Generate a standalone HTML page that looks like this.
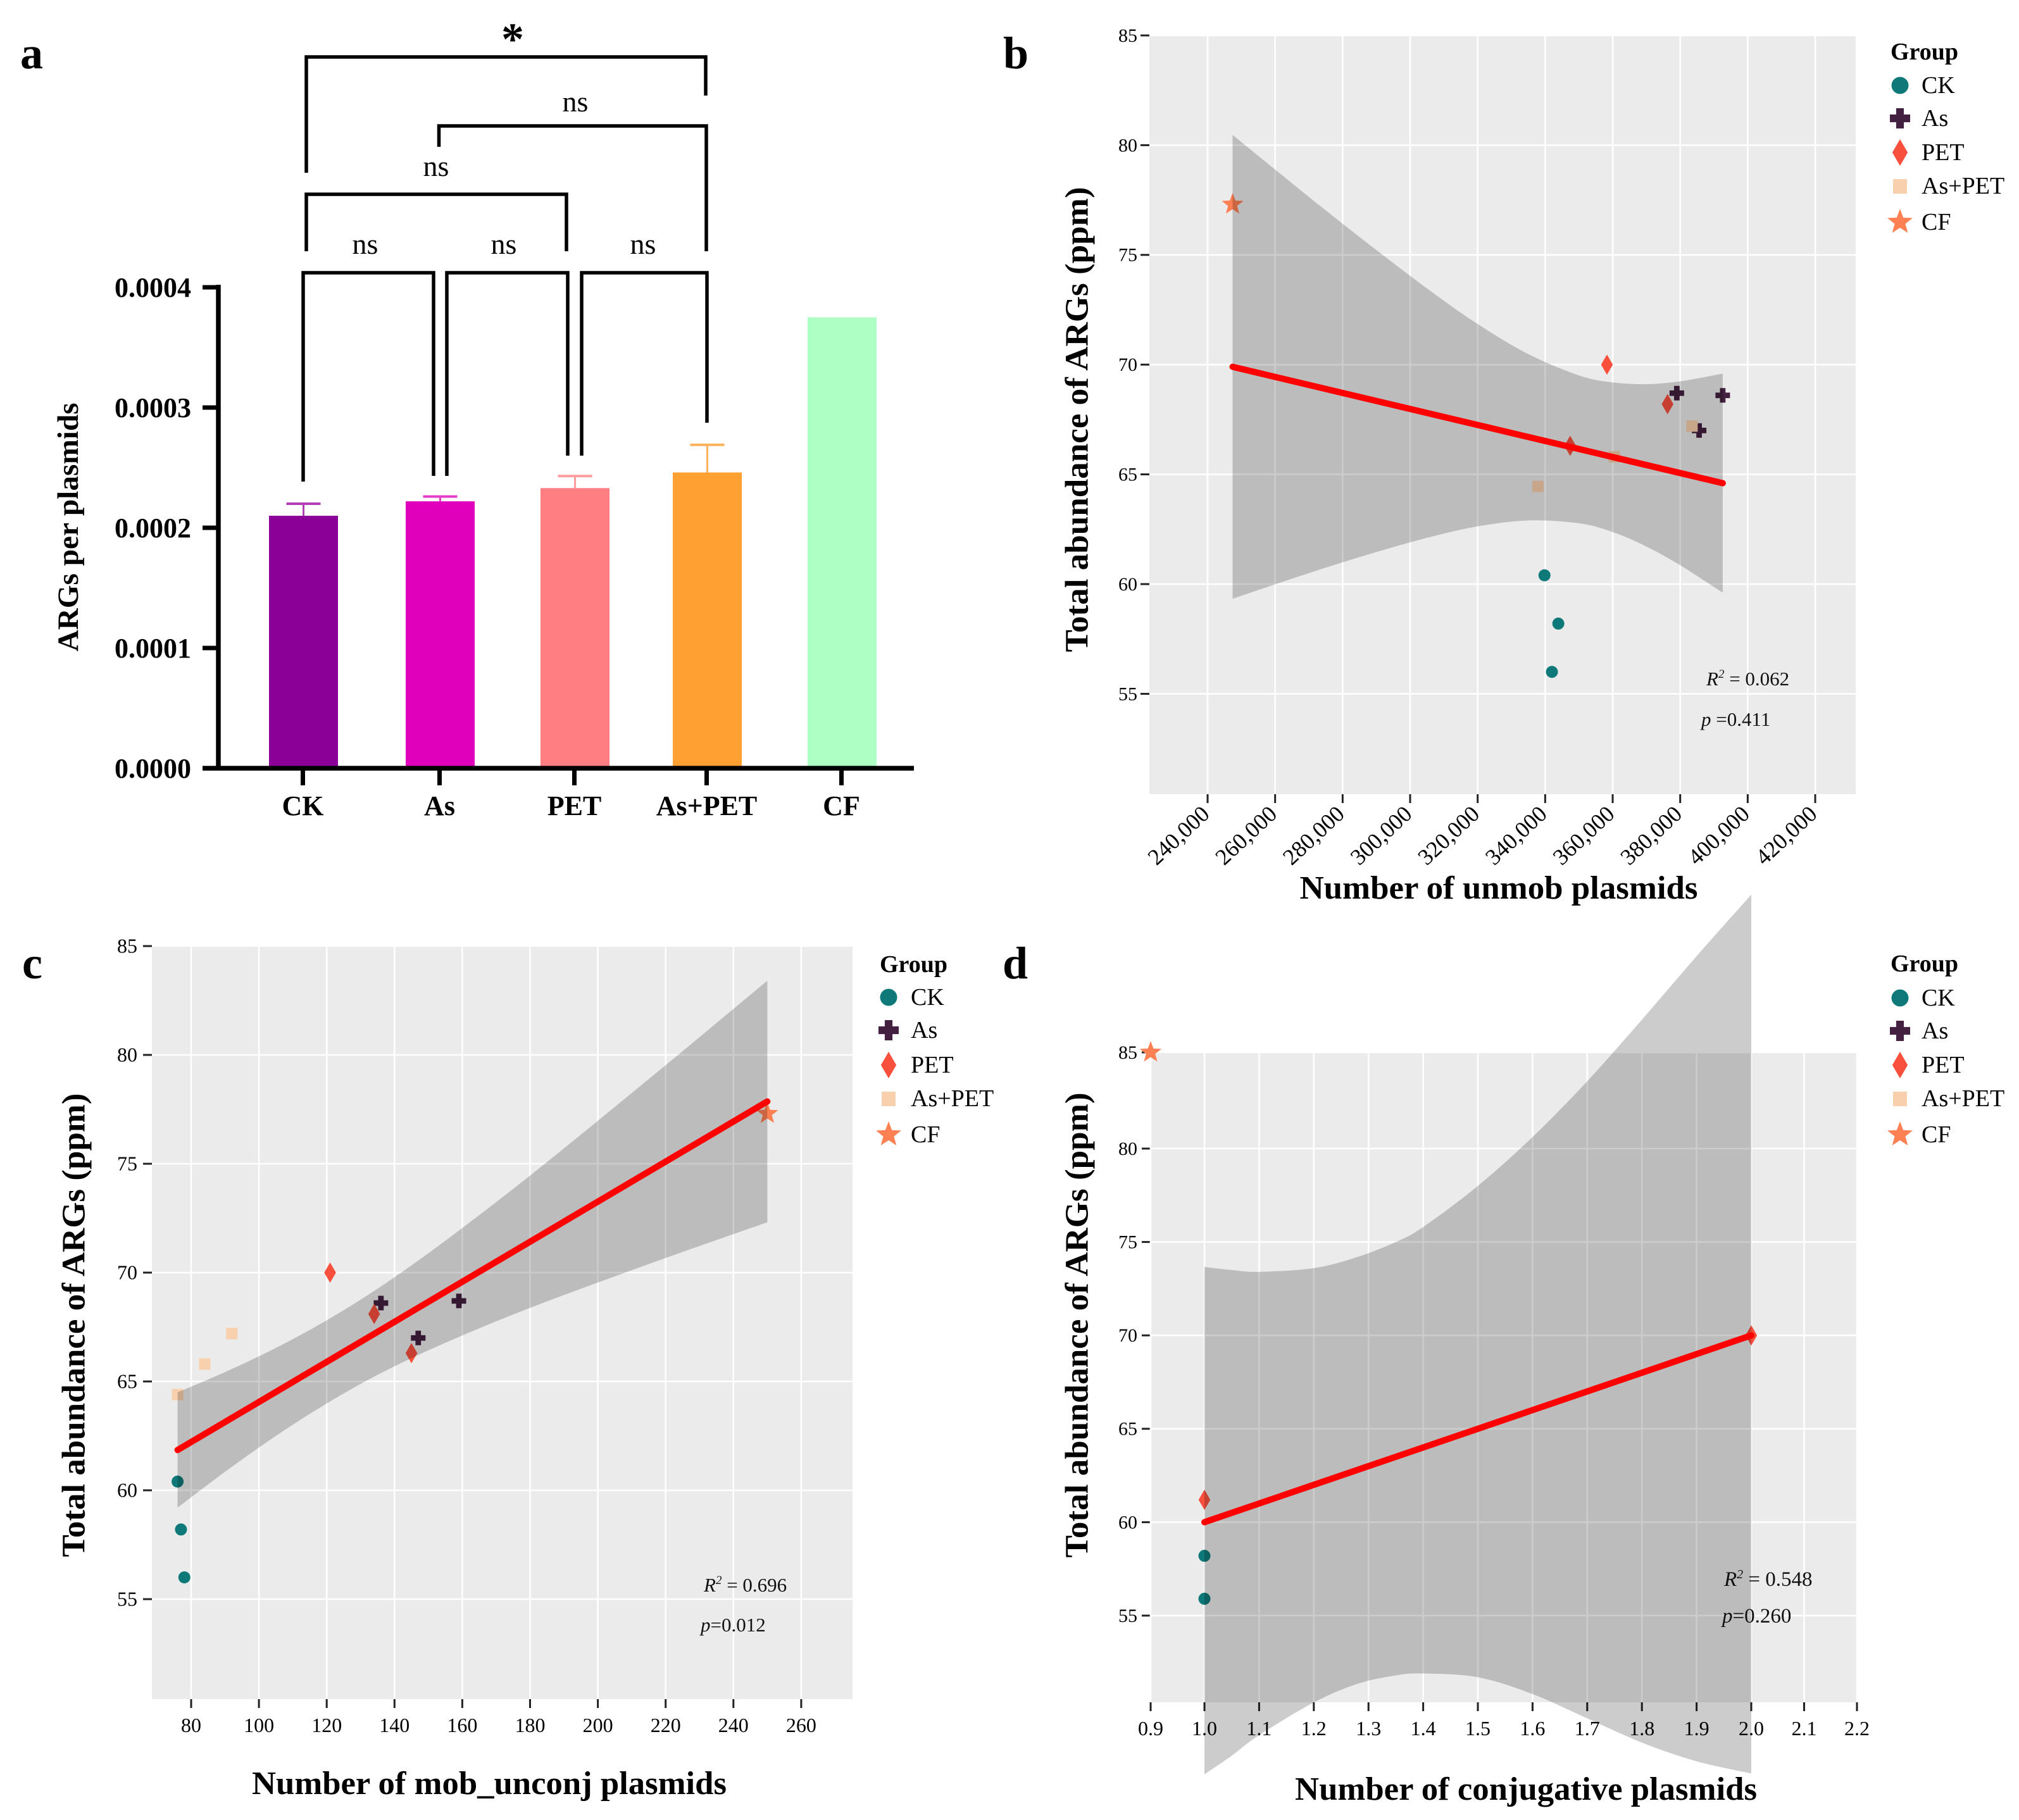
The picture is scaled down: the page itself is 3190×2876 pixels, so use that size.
<!DOCTYPE html>
<html lang="en">
<head>
<meta charset="utf-8">
<title>ARGs and plasmids figure</title>
<style>
html,body{margin:0;padding:0;background:#fff;width:3190px;height:2876px;overflow:hidden}
svg{display:block}
text{font-family:"Liberation Serif",serif;fill:#000}
.bold{font-weight:bold}
.legend{font-size:38px;dominant-baseline:central}
.stat{font-size:31px;fill:#111}
.stat-d{font-size:33px;fill:#111}
.ns{font-size:46px;text-anchor:middle}
</style>
</head>
<body>
<svg id="figure" xmlns="http://www.w3.org/2000/svg" width="3190" height="2876" viewBox="0 0 3190 2876">
<defs>
<path id="sym-plus" d="M-.38 -1H.38V-.38H1V.38H.38V1H-.38V.38H-1V-.38H-.38Z"/>
<path id="sym-diamond" d="M0 -1L.58 0L0 1L-.58 0Z"/>
<polygon id="sym-star" points="0,-1 .247,-.34 .951,-.309 .4,.13 .588,.809 0,.42 -.588,.809 -.4,.13 -.951,-.309 -.247,-.34"/>
</defs>

<!-- Panel a -->
<g id="panel-a">
  <text class="bold" x="50" y="108" font-size="72" text-anchor="middle">a</text>
  <g id="a-marks"></g>
  <g id="a-axes"></g>
  <text class="bold" transform="translate(108,833) rotate(-90)" font-size="47" text-anchor="middle" dominant-baseline="central" textLength="393" lengthAdjust="spacingAndGlyphs">ARGs per plasmids</text>
  <g fill="none" stroke="#000" stroke-width="5.5">
    <path d="M484 273V90H1115V151"/>
    <path d="M693.5 232V199H1116V397"/>
    <path d="M484 397V307H895V397"/>
    <path d="M479 761V431H685V752"/>
    <path d="M706 752V431H897V720"/>
    <path d="M919 720V431H1117V668"/>
  </g>
  <text class="ns" x="577" y="401">ns</text>
  <text class="ns" x="796" y="401">ns</text>
  <text class="ns" x="1016" y="401">ns</text>
  <text class="ns" x="689" y="278">ns</text>
  <text class="ns" x="909" y="176">ns</text>
  <text class="bold" x="810" y="86" font-size="72" text-anchor="middle">*</text>
</g>

<!-- Panel b -->
<g id="panel-b">
  <text class="bold" x="1605" y="108" font-size="72" text-anchor="middle">b</text>
  <rect x="1816" y="56" width="1116" height="1199" fill="#ebebeb"/>
  <g id="b-marks"></g>
  <text class="bold" transform="translate(1702,663) rotate(-90)" font-size="52" text-anchor="middle" dominant-baseline="central" textLength="735" lengthAdjust="spacingAndGlyphs">Total abundance of ARGs (ppm)</text>
  <text class="bold" x="2368" y="1420" font-size="52" text-anchor="middle" textLength="629" lengthAdjust="spacingAndGlyphs">Number of unmob plasmids</text>
  <text class="stat" x="2696" y="1083"><tspan font-style="italic">R</tspan><tspan dy="-12" font-size="19" font-style="italic">2</tspan><tspan dy="12"> = 0.062</tspan></text>
  <text class="stat" x="2688" y="1147"><tspan font-style="italic">p</tspan> =0.411</text>
  <g>
    <text class="bold legend" x="2987" y="82">Group</text>
    <g><circle cx="3002" cy="135" r="13.5" fill="#0f7878"/><text class="legend" x="3036" y="135">CK</text></g>
    <g><use href="#sym-plus" transform="translate(3002,187) scale(16)" fill="#43203f"/><text class="legend" x="3036" y="187">As</text></g>
    <g><use href="#sym-diamond" transform="translate(3002,241) scale(21)" fill="#f94f3d"/><text class="legend" x="3036" y="241">PET</text></g>
    <g><rect x="2991" y="283" width="22" height="23" fill="#f9d0ad"/><text class="legend" x="3036" y="294">As+PET</text></g>
    <g><use href="#sym-star" transform="translate(3002,351) scale(21)" fill="#ff8053"/><text class="legend" x="3036" y="351">CF</text></g>
  </g>
</g>

<!-- Panel c -->
<g id="panel-c">
  <text class="bold" x="51" y="1546" font-size="72" text-anchor="middle">c</text>
  <rect x="240" y="1495" width="1107" height="1190" fill="#ebebeb"/>
  <g id="c-marks"></g>
  <text class="bold" transform="translate(117,2094) rotate(-90)" font-size="52" text-anchor="middle" dominant-baseline="central" textLength="733" lengthAdjust="spacingAndGlyphs">Total abundance of ARGs (ppm)</text>
  <text class="bold" x="773" y="2835" font-size="52" text-anchor="middle" textLength="750" lengthAdjust="spacingAndGlyphs">Number of mob_unconj plasmids</text>
  <text class="stat" x="1112" y="2515"><tspan font-style="italic">R</tspan><tspan dy="-12" font-size="19" font-style="italic">2</tspan><tspan dy="12"> = 0.696</tspan></text>
  <text class="stat" x="1107" y="2578"><tspan font-style="italic">p</tspan>=0.012</text>
  <g>
    <text class="bold legend" x="1390" y="1524">Group</text>
    <g><circle cx="1404" cy="1576" r="13.5" fill="#0f7878"/><text class="legend" x="1439" y="1576">CK</text></g>
    <g><use href="#sym-plus" transform="translate(1404,1628) scale(16)" fill="#43203f"/><text class="legend" x="1439" y="1628">As</text></g>
    <g><use href="#sym-diamond" transform="translate(1404,1683) scale(21)" fill="#f94f3d"/><text class="legend" x="1439" y="1683">PET</text></g>
    <g><rect x="1393" y="1725" width="22" height="23" fill="#f9d0ad"/><text class="legend" x="1439" y="1736">As+PET</text></g>
    <g><use href="#sym-star" transform="translate(1404,1793) scale(21)" fill="#ff8053"/><text class="legend" x="1439" y="1793">CF</text></g>
  </g>
</g>

<!-- Panel d -->
<g id="panel-d">
  <text class="bold" x="1604" y="1546" font-size="72" text-anchor="middle">d</text>
  <rect x="1818" y="1663" width="1116" height="1027" fill="#ebebeb"/>
  <g id="d-marks"></g>
  <text class="bold" transform="translate(1702,2094) rotate(-90)" font-size="52" text-anchor="middle" dominant-baseline="central" textLength="735" lengthAdjust="spacingAndGlyphs">Total abundance of ARGs (ppm)</text>
  <text class="bold" x="2411" y="2844" font-size="52" text-anchor="middle" textLength="730" lengthAdjust="spacingAndGlyphs">Number of conjugative plasmids</text>
  <text class="stat-d" x="2724" y="2506"><tspan font-style="italic">R</tspan><tspan dy="-12" font-size="20" font-style="italic">2</tspan><tspan dy="12"> = 0.548</tspan></text>
  <text class="stat-d" x="2721" y="2564"><tspan font-style="italic">p</tspan>=0.260</text>
  <g>
    <text class="bold legend" x="2987" y="1523">Group</text>
    <g><circle cx="3002" cy="1577" r="13.5" fill="#0f7878"/><text class="legend" x="3036" y="1577">CK</text></g>
    <g><use href="#sym-plus" transform="translate(3002,1629) scale(16)" fill="#43203f"/><text class="legend" x="3036" y="1629">As</text></g>
    <g><use href="#sym-diamond" transform="translate(3002,1683) scale(21)" fill="#f94f3d"/><text class="legend" x="3036" y="1683">PET</text></g>
    <g><rect x="2991" y="1725" width="22" height="23" fill="#f9d0ad"/><text class="legend" x="3036" y="1736">As+PET</text></g>
    <g><use href="#sym-star" transform="translate(3002,1793) scale(21)" fill="#ff8053"/><text class="legend" x="3036" y="1793">CF</text></g>
  </g>
</g>
</svg>

<script>
// ---------- Panel a data ----------
const aCategories = ['CK', 'As', 'PET', 'As+PET', 'CF'];
const aValues = [0.00021, 0.000222, 0.000233, 0.000246, 0.000375];
const aErrorTops = [0.00022, 0.000226, 0.000243, 0.000269, null];
const aYTicks = [0, 0.0001, 0.0002, 0.0003, 0.0004];
const aYTickLabels = ['0.0000', '0.0001', '0.0002', '0.0003', '0.0004'];
const aBarColors = ['#8b0096', '#e000bb', '#ff7e82', '#ffa033', '#aeffc3'];
const aErrorColors = ['#b23fb8', '#e53fc9', '#ff9a9d', '#ffb25c', '#aeffc3'];

// ---------- Panel b data ----------
const bXTicks = [240000, 260000, 280000, 300000, 320000, 340000, 360000, 380000, 400000, 420000];
const bXTickLabels = ['240,000', '260,000', '280,000', '300,000', '320,000', '340,000', '360,000', '380,000', '400,000', '420,000'];
const bYTicks = [55, 60, 65, 70, 75, 80, 85];
const bCkX = [339800, 343900, 342000];
const bCkY = [60.4, 58.2, 56];
const bAsX = [379000, 392600, 385600];
const bAsY = [68.7, 68.6, 67];
const bPetX = [358300, 376250, 347400];
const bPetY = [70, 68.2, 66.3];
const bMixX = [337850, 360500, 383500];
const bMixY = [64.45, 65.8, 67.2];
const bCfX = [247400];
const bCfY = [77.3];
const bLineX = [247400, 392600];
const bLineY = [69.9, 64.6];
const bBandX = [247400, 260000, 275000, 290000, 305000, 320000, 335000, 350000, 360000, 370000, 380000, 392600];
const bUpperY = [80.47, 78.89, 77.03, 75.22, 73.47, 71.85, 70.48, 69.51, 69.19, 69.11, 69.24, 69.59];
const bLowerY = [59.33, 59.99, 60.75, 61.46, 62.11, 62.63, 62.9, 62.77, 62.37, 61.71, 60.86, 59.61];

// ---------- Panel c data ----------
const cXTicks = [80, 100, 120, 140, 160, 180, 200, 220, 240, 260];
const cXTickLabels = ['80', '100', '120', '140', '160', '180', '200', '220', '240', '260'];
const cYTicks = [55, 60, 65, 70, 75, 80, 85];
const cCkX = [76, 77, 78];
const cCkY = [60.4, 58.2, 56];
const cAsX = [136, 159, 147];
const cAsY = [68.6, 68.7, 67];
const cPetX = [121, 134, 145];
const cPetY = [70, 68.1, 66.3];
const cMixX = [76, 84, 92];
const cMixY = [64.4, 65.8, 67.2];
const cCfX = [250];
const cCfY = [77.3];
const cLineX = [76, 250];
const cLineY = [61.85, 77.86];
const cBandX = [76, 90, 105, 120, 135, 150, 165, 180, 195, 210, 225, 250];
const cUpperY = [64.5, 65.43, 66.54, 67.81, 69.26, 70.89, 72.64, 74.46, 76.34, 78.25, 80.17, 83.41];
const cLowerY = [59.2, 60.85, 62.5, 63.99, 65.3, 66.43, 67.44, 68.38, 69.26, 70.11, 70.95, 72.31];

// ---------- Panel d data ----------
const dXTicks = [0.9, 1.0, 1.1, 1.2, 1.3, 1.4, 1.5, 1.6, 1.7, 1.8, 1.9, 2.0, 2.1, 2.2];
const dXTickLabels = ['0.9', '1.0', '1.1', '1.2', '1.3', '1.4', '1.5', '1.6', '1.7', '1.8', '1.9', '2.0', '2.1', '2.2'];
const dYTicks = [55, 60, 65, 70, 75, 80, 85];
const dCkX = [1, 1];
const dCkY = [58.2, 55.9];
const dPetX = [1, 2];
const dPetY = [61.2, 70];
const dCfX = [0.9];
const dCfY = [85];
const dLineX = [1, 2];
const dLineY = [60, 70];
const dBandX = [1, 1.05, 1.1, 1.2, 1.28, 1.35, 1.4, 1.5, 1.6, 1.7, 1.8, 1.9, 2];
const dUpperY = [73.66, 73.5, 73.4, 73.6, 74.2, 75, 75.8, 78, 80.6, 83.5, 86.7, 90, 93.2];
const dLowerY = [46.5, 47.5, 48.6, 50.35, 51.35, 51.8, 51.9, 51.7, 50.8, 49.5, 48.2, 47.2, 46.55];

// ---------- Axis functions ----------
const aX = i => 1.5 + [478, 694, 907, 1116, 1329][i];
const aY = v => 1214 - v / 0.0001 * 190;
const bx = v => 1908 + (v - 240000) / 20000 * 106.67;
const by = v => 56 + (85 - v) * 34.68;
const cx = v => 302 + (v - 80) * 5.355;
const cy = v => 1495 + (85 - v) * 34.4;
const dx = v => v < 1 ? 1903 - (1 - v) * 850 : (v <= 2 ? 1903 + (v - 1) * 864 : 2767 + (v - 2) * 835);
const dy = v => v <= 80 ? 2553 - (v - 55) * 29.52 : 1815 - (v - 80) * 30.4;

const NS = 'http://www.w3.org/2000/svg';
function mk(parent, tag, attrs, txt) {
  const el = document.createElementNS(NS, tag);
  for (const k in attrs) el.setAttribute(k, attrs[k]);
  if (txt !== undefined) el.textContent = txt;
  parent.appendChild(el);
  return el;
}

// Smooth curve through pixel points (Catmull-Rom to Bezier)
function curve(pts, start) {
  let d = start ? 'M' + pts[0][0] + ' ' + pts[0][1] : 'L' + pts[0][0] + ' ' + pts[0][1];
  for (let i = 0; i < pts.length - 1; i++) {
    const p0 = pts[Math.max(i - 1, 0)], p1 = pts[i], p2 = pts[i + 1], p3 = pts[Math.min(i + 2, pts.length - 1)];
    d += 'C' + (p1[0] + (p2[0] - p0[0]) / 6) + ' ' + (p1[1] + (p2[1] - p0[1]) / 6) + ' ' +
         (p2[0] - (p3[0] - p1[0]) / 6) + ' ' + (p2[1] - (p3[1] - p1[1]) / 6) + ' ' + p2[0] + ' ' + p2[1];
  }
  return d;
}

// ---------- Draw panel a ----------
(function () {
  const marks = document.getElementById('a-marks');
  const axes = document.getElementById('a-axes');
  aCategories.forEach((c, i) => {
    const x = aX(i);
    if (aErrorTops[i] !== null) {
      const stem = mk(marks, 'line', { x1: x, x2: x, y1: aY(aValues[i]), y2: aY(aErrorTops[i]), stroke: aErrorColors[i], 'stroke-width': 3 });
      
      
      const cap = mk(marks, 'line', { x1: x - 27, x2: x + 27, y1: aY(aErrorTops[i]), y2: aY(aErrorTops[i]), stroke: aErrorColors[i], 'stroke-width': 4 });
      
      
    }
    const bar = mk(marks, 'rect', { x: x - 54.5, y: aY(aValues[i]), width: 109, height: 1214 - aY(aValues[i]), fill: aBarColors[i] });
    
    
    const tick = mk(axes, 'line', { x1: x - 1, x2: x - 1, y1: 1214, y2: 1241, stroke: '#000', 'stroke-width': 7 });
    
    
    const lab = mk(axes, 'text', { x: x - 1, y: 1288, 'text-anchor': 'middle', 'font-size': 44, 'font-weight': 'bold' }, c);
    
    
  });
  const yAxis = mk(axes, 'line', { x1: 345, x2: 345, y1: 450, y2: 1217.5, stroke: '#000', 'stroke-width': 7.5 });
  
  
  const xAxis = mk(axes, 'line', { x1: 320, x2: 1444, y1: 1214, y2: 1214, stroke: '#000', 'stroke-width': 7.5 });
  
  
  aYTicks.forEach((v, i) => {
    const t = mk(axes, 'line', { x1: 320, x2: 345, y1: aY(v), y2: aY(v), stroke: '#000', 'stroke-width': 7 });
    
    
    const l = mk(axes, 'text', { x: 302, y: aY(v) + 15, 'text-anchor': 'end', 'font-size': 44, 'font-weight': 'bold' }, aYTickLabels[i]);
    
    
  });
})();

// ---------- Draw scatter panels ----------
function drawPoints(g, xs, ys, shape, color, fx, fy) {
  xs.forEach((v, i) => {
    const px = fx(v), py = fy(ys[i]);
    let el;
    if (shape === 'circle') {
      el = mk(g, 'circle', { cx: px, cy: py, r: 9.5, fill: color });
    } else if (shape === 'square') {
      el = mk(g, 'rect', { x: px - 9, y: py - 9, width: 18, height: 18, fill: color });
    } else {
      const s = shape === 'plus' ? 11.5 : (shape === 'star' ? 18 : 16);
      el = mk(g, 'use', { href: '#sym-' + shape, transform: 'translate(' + px + ',' + py + ') scale(' + s + ')', fill: color });
    }
    
    
  });
}

function drawGrid(g, xTicks, xLabels, yTicks, fx, fy, box, xLabelMode, yFont, yLabelRight) {
  yTicks.forEach(v => {
    const gl = mk(g, 'line', { x1: box.l, x2: box.r, y1: fy(v), y2: fy(v), stroke: '#fff', 'stroke-width': 2.6 });
    
    
    const t = mk(g, 'line', { x1: box.l - 14, x2: box.l, y1: fy(v), y2: fy(v), stroke: '#222', 'stroke-width': 3 });
    
    
    const l = mk(g, 'text', { x: yLabelRight, y: fy(v) + yFont * 0.33, 'text-anchor': 'end', 'font-size': yFont }, String(v));
    
    
  });
  xTicks.forEach((v, i) => {
    const px = fx(v);
    const gl = mk(g, 'line', { x1: px, x2: px, y1: box.t, y2: box.b, stroke: '#fff', 'stroke-width': 2.6 });
    
    
    const t = mk(g, 'line', { x1: px, x2: px, y1: box.b, y2: box.b + 14, stroke: '#222', 'stroke-width': 3 });
    
    
    let l;
    if (xLabelMode === 'rotated') {
      l = mk(g, 'text', { transform: 'translate(' + (px + 5) + ',' + (box.b + 34) + ') rotate(-43)', 'text-anchor': 'end', 'font-size': 36 }, xLabels[i]);
    } else {
      l = mk(g, 'text', { x: px, y: box.b + 52, 'text-anchor': 'middle', 'font-size': 32 }, xLabels[i]);
    }
    
    
  });
}

function drawFit(g, lineX, lineY, bandX, upY, loY, fx, fy) {
  const up = bandX.map((v, i) => [fx(v), fy(upY[i])]);
  const lo = bandX.map((v, i) => [fx(v), fy(loY[i])]).reverse();
  const band = mk(g, 'path', { d: curve(up, true) + curve(lo, false) + 'Z', fill: '#000', 'fill-opacity': 0.2 });
  
  
  const line = mk(g, 'line', { x1: fx(lineX[0]), y1: fy(lineY[0]), x2: fx(lineX[1]), y2: fy(lineY[1]), stroke: '#ff0000', 'stroke-width': 10, 'stroke-linecap': 'round' });
  
  
}

const colCk = '#0f7878', colAs = '#43203f', colPet = '#f94f3d', colMix = '#f9d0ad', colCf = '#ff8053';

// Panel b
(function () {
  const g = document.getElementById('b-marks');
  drawGrid(g, bXTicks, bXTickLabels, bYTicks, bx, by, { l: 1816, r: 2932, t: 56, b: 1255 }, 'rotated', 30, 1797);
  drawPoints(g, bCkX, bCkY, 'circle', colCk, bx, by);
  drawPoints(g, bAsX, bAsY, 'plus', colAs, bx, by);
  drawPoints(g, bPetX, bPetY, 'diamond', colPet, bx, by);
  drawPoints(g, bMixX, bMixY, 'square', colMix, bx, by);
  drawPoints(g, bCfX, bCfY, 'star', colCf, bx, by);
  drawFit(g, bLineX, bLineY, bBandX, bUpperY, bLowerY, bx, by);
})();

// Panel c
(function () {
  const g = document.getElementById('c-marks');
  drawGrid(g, cXTicks, cXTickLabels, cYTicks, cx, cy, { l: 240, r: 1347, t: 1495, b: 2685 }, 'flat', 32, 217);
  drawPoints(g, cCkX, cCkY, 'circle', colCk, cx, cy);
  drawPoints(g, cAsX, cAsY, 'plus', colAs, cx, cy);
  drawPoints(g, cPetX, cPetY, 'diamond', colPet, cx, cy);
  drawPoints(g, cMixX, cMixY, 'square', colMix, cx, cy);
  drawPoints(g, cCfX, cCfY, 'star', colCf, cx, cy);
  drawFit(g, cLineX, cLineY, cBandX, cUpperY, cLowerY, cx, cy);
})();

// Panel d
(function () {
  const g = document.getElementById('d-marks');
  drawGrid(g, dXTicks, dXTickLabels, dYTicks, dx, dy, { l: 1818, r: 2934, t: 1663, b: 2690 }, 'flat', 30, 1797);
  drawPoints(g, dCkX, dCkY, 'circle', colCk, dx, dy);
  drawPoints(g, dPetX, dPetY, 'diamond', colPet, dx, dy);
  drawPoints(g, dCfX, dCfY, 'star', colCf, dx, dy);
  drawFit(g, dLineX, dLineY, dBandX, dUpperY, dLowerY, dx, dy);
})();
</script>
</body>
</html>
